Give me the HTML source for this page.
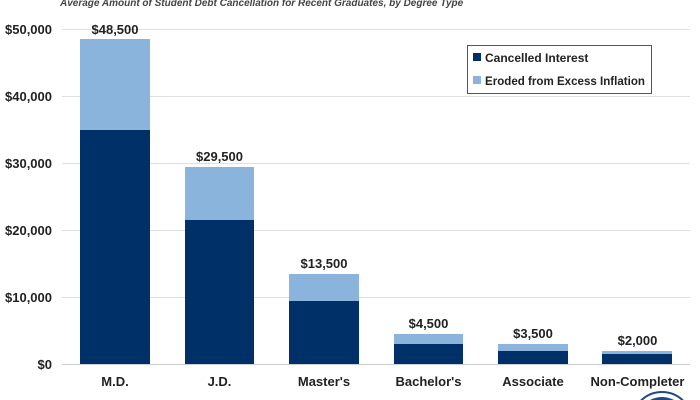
<!DOCTYPE html>
<html><head><style>
html,body{margin:0;padding:0;background:#fff;width:700px;height:400px;overflow:hidden}
svg{display:block;font-family:"Liberation Sans",sans-serif}
</style></head><body>
<svg width="700" height="400" viewBox="0 0 700 400" overflow="hidden">
<defs><clipPath id="c"><rect width="700" height="400"/></clipPath></defs>
<rect width="700" height="400" fill="#fff"/>
<text x="60" y="6" font-size="10" font-style="italic" font-weight="bold" fill="#444">Average Amount of Student Debt Cancellation for Recent Graduates, by Degree Type</text>
<g stroke="#e0e0e0" stroke-width="1">
<line x1="62" y1="29.5" x2="690" y2="29.5"/><line x1="62" y1="96.5" x2="690" y2="96.5"/>
<line x1="62" y1="163.5" x2="690" y2="163.5"/><line x1="62" y1="230.5" x2="690" y2="230.5"/>
<line x1="62" y1="297.5" x2="690" y2="297.5"/><line x1="62" y1="364.5" x2="690" y2="364.5" stroke="#ccc"/>
</g>
<g font-size="13" font-weight="bold" fill="#222" text-anchor="end">
<text x="52" y="34">$50,000</text><text x="52" y="101">$40,000</text><text x="52" y="168">$30,000</text>
<text x="52" y="235">$20,000</text><text x="52" y="302">$10,000</text><text x="52" y="369">$0</text>
</g>
<g>
<rect x="80" y="39" width="70" height="91" fill="#8ab4db"/><rect x="80" y="130" width="70" height="234" fill="#003068"/>
<rect x="185" y="167" width="69" height="53" fill="#8ab4db"/><rect x="185" y="220" width="69" height="144" fill="#003068"/>
<rect x="289" y="274" width="70" height="27" fill="#8ab4db"/><rect x="289" y="301" width="70" height="63" fill="#003068"/>
<rect x="394" y="334" width="69" height="10" fill="#8ab4db"/><rect x="394" y="344" width="69" height="20" fill="#003068"/>
<rect x="498" y="344" width="70" height="7" fill="#8ab4db"/><rect x="498" y="351" width="70" height="13" fill="#003068"/>
<rect x="602" y="351" width="70" height="3" fill="#8ab4db"/><rect x="602" y="354" width="70" height="10" fill="#003068"/>
</g>
<g clip-path="url(#c)">
<circle cx="662" cy="422" r="30" fill="#fff" stroke="#1f4a8a" stroke-width="2"/>
<circle cx="662" cy="422" r="25" fill="#1f4a8a"/>
</g>
<g font-size="13" font-weight="bold" fill="#222" text-anchor="middle">
<text x="115" y="34">$48,500</text><text x="219.5" y="161">$29,500</text><text x="324" y="268">$13,500</text>
<text x="428.5" y="328">$4,500</text><text x="533" y="338">$3,500</text><text x="637.5" y="345">$2,000</text>
<text x="115" y="386">M.D.</text><text x="219.5" y="386">J.D.</text><text x="324" y="386">Master's</text>
<text x="428.5" y="386">Bachelor's</text><text x="533" y="386">Associate</text><text x="637.5" y="386">Non-Completer</text>
</g>
<rect x="467.5" y="45.5" width="184" height="48" fill="#fff" stroke="#555"/>
<rect x="473" y="53" width="8" height="8" fill="#003068"/>
<rect x="473" y="76" width="8" height="8" fill="#8ab4db"/>
<g font-size="12" font-weight="bold" fill="#222">
<text x="485" y="62">Cancelled Interest</text><text x="485" y="85" textLength="160" lengthAdjust="spacingAndGlyphs">Eroded from Excess Inflation</text>
</g>
</svg>
</body></html>
